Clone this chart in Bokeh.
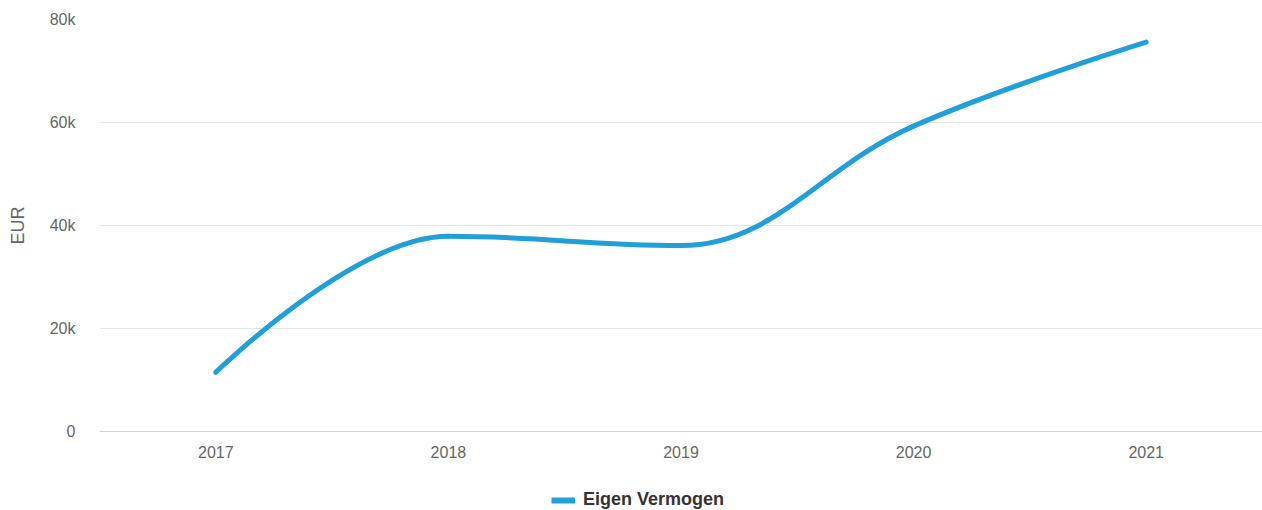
from bokeh.plotting import figure
from bokeh.layouts import column
from bokeh.models import Range1d, FixedTicker, Legend, LegendItem, ColumnDataSource
from bokeh.embed import file_html
from bokeh.resources import INLINE

years = ["2017", "2018", "2019", "2020", "2021"]
values = [11500, 37900, 36100, 59300, 75600]
series_name = "Eigen Vermogen"
y_ticks = [0, 20000, 40000, 60000, 80000]
y_tick_labels = ["0", "20k", "40k", "60k", "80k"]

LINE_COLOR = "#209fd9"
FONT = "Liberation Sans"

# Highcharts-style spline control points (computed from the data)
xs = list(range(len(values)))
n = len(values)
lcx = [None] * n; lcy = [None] * n; rcx = [None] * n; rcy = [None] * n
sm = 1.5
den = sm + 1
for i in range(n):
    px, py = xs[i], values[i]
    if 0 < i < n - 1:
        lx, ly = xs[i - 1], values[i - 1]
        nx, ny = xs[i + 1], values[i + 1]
        lX = (sm * px + lx) / den
        lY = (sm * py + ly) / den
        rX = (sm * px + nx) / den
        rY = (sm * py + ny) / den
        corr = ((rY - lY) * (rX - px)) / (rX - lX) + py - rY
        lY += corr
        rY += corr
        if lY > ly and lY > py:
            lY = max(ly, py); rY = 2 * py - lY
        elif lY < ly and lY < py:
            lY = min(ly, py); rY = 2 * py - lY
        if rY > ny and rY > py:
            rY = max(ny, py); lY = 2 * py - rY
        elif rY < ny and rY < py:
            rY = min(ny, py); lY = 2 * py - rY
        lcx[i], lcy[i], rcx[i], rcy[i] = lX, lY, rX, rY
    else:
        lcx[i], lcy[i], rcx[i], rcy[i] = px, py, px, py

src = ColumnDataSource(dict(
    x0=xs[:-1], y0=values[:-1], x1=xs[1:], y1=values[1:],
    cx0=rcx[:-1], cy0=rcy[:-1], cx1=lcx[1:], cy1=lcy[1:],
))

p = figure(width=1262, height=470, output_backend="svg", toolbar_location=None,
           x_range=Range1d(-0.5, n - 0.5), y_range=Range1d(0, 80000),
           min_border_left=99, min_border_top=19, min_border_right=0, min_border_bottom=39)
p.outline_line_color = None

r = p.bezier(x0="x0", y0="y0", x1="x1", y1="y1", cx0="cx0", cy0="cy0", cx1="cx1", cy1="cy1",
             source=src, line_color=LINE_COLOR, line_width=5, line_cap="round")

# axes
p.xaxis.ticker = FixedTicker(ticks=xs)
p.xaxis.major_label_overrides = {i: y for i, y in enumerate(years)}
p.xaxis.axis_line_color = "#ccd6eb"
p.xaxis.major_tick_line_color = None
p.xaxis.minor_tick_line_color = None
p.xaxis.major_tick_out = 0
p.xaxis.major_label_standoff = 14
p.xaxis.major_label_text_font = FONT
p.xaxis.major_label_text_font_size = "16px"
p.xaxis.major_label_text_color = "#666666"

p.yaxis.ticker = FixedTicker(ticks=y_ticks)
p.yaxis.major_label_overrides = {t: l for t, l in zip(y_ticks, y_tick_labels)}
p.yaxis.axis_line_color = None
p.yaxis.major_tick_line_color = None
p.yaxis.minor_tick_line_color = None
p.yaxis.major_tick_out = 0
p.yaxis.major_label_standoff = 24
p.yaxis.major_label_text_font = FONT
p.yaxis.major_label_text_font_size = "16px"
p.yaxis.major_label_text_color = "#666666"
p.yaxis.axis_label = "EUR"
p.yaxis.axis_label_standoff = 19
p.yaxis.axis_label_text_font = FONT
p.yaxis.axis_label_text_font_size = "18px"
p.yaxis.axis_label_text_font_style = "normal"
p.yaxis.axis_label_text_color = "#666666"

p.xgrid.grid_line_color = None
p.ygrid.ticker = FixedTicker(ticks=y_ticks)
p.ygrid.grid_line_color = "#e6e6e6"
p.ygrid.grid_line_width = 1

# legend strip underneath
pl = figure(width=1262, height=40, output_backend="svg", toolbar_location=None,
            x_range=Range1d(0, 1), y_range=Range1d(0, 1),
            min_border_left=0, min_border_top=0, min_border_right=0, min_border_bottom=0)
pl.outline_line_color = None
pl.axis.visible = False
pl.grid.visible = False
lr = pl.line(x=[-10, -9], y=[-10, -9], line_color=LINE_COLOR, line_width=6, line_cap="butt")

legend = Legend(items=[LegendItem(label=series_name, renderers=[lr])],
                orientation="horizontal", location=(452, 0),
                glyph_width=24, glyph_height=14,
                label_text_font=FONT, label_text_font_size="18px",
                label_text_font_style="bold", label_text_color="#333333",
                border_line_color=None, background_fill_alpha=0,
                padding=0, margin=0, label_standoff=8)
pl.add_layout(legend, "center")

layout = column(p, pl, spacing=0)
open("out.html", "w").write(file_html(layout, INLINE))
